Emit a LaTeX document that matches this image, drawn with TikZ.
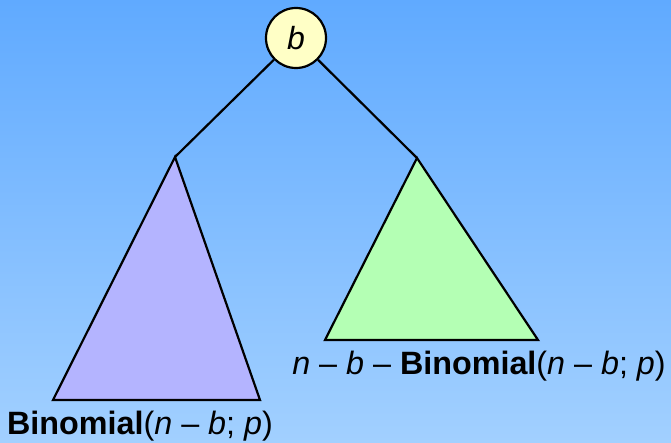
\documentclass[tikz,border=0pt]{standalone}
\usepackage{fontspec}
\setmainfont{Liberation Sans}
\definecolor{bgtop}{RGB}{96,170,255}
\definecolor{bgbot}{RGB}{162,208,255}
\definecolor{rootfill}{RGB}{255,255,198}
\definecolor{lavender}{RGB}{180,180,255}
\definecolor{mint}{RGB}{180,255,180}
\begin{document}
\begin{tikzpicture}[x=1pt,y=-1pt,
  edge/.style={line width=2.2pt,black},
  tri/.style={line width=2.2pt,black,line join=miter},
  lbl/.style={anchor=base,inner sep=0pt,font=\fontsize{32.3}{38}\selectfont},
  rootnode/.style={circle,draw=black,line width=2.2pt,fill=rootfill,minimum size=60pt,inner sep=0pt,font=\fontsize{32}{38}\selectfont}]
\shade[top color=bgtop,bottom color=bgbot] (0,0) rectangle (671,443);
\useasboundingbox (0,0) rectangle (671,443);
\coordinate (la) at (175,157);
\coordinate (ra) at (417,158);
\coordinate (lbl) at (53,400);
\coordinate (lbr) at (260,400);
\coordinate (rbl) at (325,340);
\coordinate (rbr) at (538,340);
\node[rootnode] (root) at (296,38) {\textit{b}};
\draw[edge] (root) -- (la);
\draw[edge] (root) -- (ra);
\draw[tri,fill=lavender] (la) -- (lbl) -- (lbr) -- cycle;
\draw[tri,fill=mint] (ra) -- (rbl) -- (rbr) -- cycle;
\node[lbl] (ltext) at (140,434) {\textbf{Binomial}(\textit{n} – \textit{b}; \textit{p})};
\node[lbl] (rtext) at (479,374) {\textit{n} – \textit{b} – \textbf{Binomial}(\textit{n} – \textit{b}; \textit{p})};
\end{tikzpicture}
\end{document}
